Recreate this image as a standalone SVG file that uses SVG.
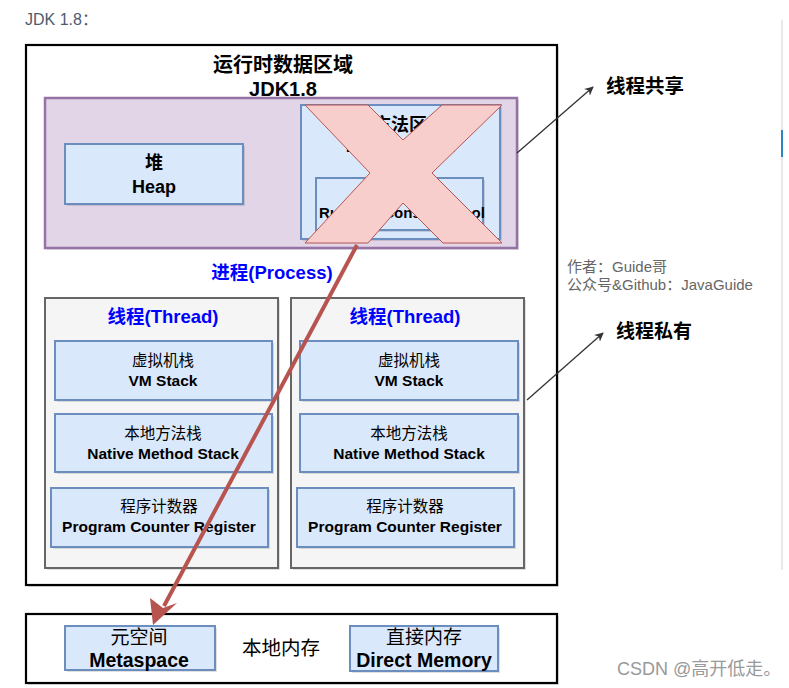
<svg xmlns="http://www.w3.org/2000/svg" width="789" height="688" viewBox="0 0 789 688">
<defs>
<style>
.t{font-family:"Liberation Sans","Noto Sans CJK SC",sans-serif;font-weight:bold;fill:#000;text-anchor:middle}
.n{font-weight:normal}
.blue{fill:#dae8fc;stroke:#6c8ebf;stroke-width:2}
.thr{fill:#f5f5f5;stroke:#666;stroke-width:2}
.blk{fill:#fff;stroke:#000;stroke-width:2.2}
.sh{fill:#000;opacity:0.12}
.bl{fill:#0000ff;font-size:18.5px}
.s14{font-size:15.5px}
.g{font-family:"Liberation Sans","Noto Sans CJK SC",sans-serif}
</style>
<marker id="ah" viewBox="0 0 10 10" refX="9" refY="5" markerWidth="9" markerHeight="9" orient="auto" markerUnits="userSpaceOnUse">
<path d="M0,0 L10,5 L0,10 L3,5 Z" fill="#333"/>
</marker>
</defs>
<rect width="789" height="688" fill="#fff"/>
<line x1="782" y1="20" x2="782" y2="570" stroke="#e8e8ec" stroke-width="2"/>
<line x1="782" y1="130" x2="782" y2="157" stroke="#2e86c1" stroke-width="2"/>
<text class="g" x="25" y="25" font-size="16" fill="#4d5b6b">JDK 1.8：</text>

<g id="runtime">
<rect class="sh" x="28" y="47" width="531" height="540"/>
<rect class="blk" x="26" y="45" width="531" height="540"/>
<text class="t" x="283" y="72" font-size="20">运行时数据区域</text>
<text class="t" x="283" y="96" font-size="20">JDK1.8</text>
</g>

<g id="shared">
<rect class="sh" x="47" y="100" width="472" height="150"/>
<rect x="45" y="98" width="472" height="150" fill="#e1d5e7" stroke="#9673a6" stroke-width="2.5"/>
</g>

<g id="heap">
<rect class="sh" x="67" y="146" width="178" height="60"/>
<rect class="blue" x="65" y="144" width="178" height="60"/>
<text class="t" x="154" y="169" font-size="18">堆</text>
<text class="t" x="154" y="193" font-size="18">Heap</text>
</g>

<g id="method-area">
<rect class="sh" x="303" y="107" width="199" height="134"/>
<rect class="blue" x="301" y="105" width="199" height="134"/>
<text class="t" x="400" y="131" font-size="18">方法区</text>
<text class="t" x="400" y="152" font-size="18">Method Area</text>
<rect class="sh" x="318" y="180" width="167" height="52"/>
<rect class="blue" x="316" y="178" width="167" height="52"/>
<text class="t" x="402" y="218" font-size="15">Runtime Constant Pool</text>
</g>

<g id="cross">
<polygon points="305,105 368,105 403,140 442,105 502,105 432,173 502,243 443,243 403,203 368,243 305,243 370,173" fill="#f8cecc" stroke="#b85450" stroke-width="1"/>
</g>

<text class="t bl" x="272" y="279">进程(Process)</text>

<g id="thread-left">
<rect class="sh" x="47" y="300" width="233" height="270"/>
<rect class="thr" x="45" y="298" width="233" height="270"/>
<text class="t bl" x="163" y="323">线程(Thread)</text>
<rect class="sh" x="57" y="343" width="217" height="59"/>
<rect class="blue" x="55" y="341" width="217" height="59"/>
<text class="t s14 n" x="163" y="366">虚拟机栈</text>
<text class="t s14" x="163" y="386">VM Stack</text>
<rect class="sh" x="57" y="416" width="217" height="58"/>
<rect class="blue" x="55" y="414" width="217" height="58"/>
<text class="t s14 n" x="163" y="439">本地方法栈</text>
<text class="t s14" x="163" y="459">Native Method Stack</text>
<rect class="sh" x="53" y="490" width="217" height="59"/>
<rect class="blue" x="51" y="488" width="217" height="59"/>
<text class="t s14 n" x="159" y="512">程序计数器</text>
<text class="t s14" x="159" y="532">Program Counter Register</text>
</g>

<g id="thread-right">
<rect class="sh" x="293" y="300" width="233" height="270"/>
<rect class="thr" x="291" y="298" width="233" height="270"/>
<text class="t bl" x="405" y="323">线程(Thread)</text>
<rect class="sh" x="302" y="343" width="218" height="59"/>
<rect class="blue" x="300" y="341" width="218" height="59"/>
<text class="t s14 n" x="409" y="366">虚拟机栈</text>
<text class="t s14" x="409" y="386">VM Stack</text>
<rect class="sh" x="302" y="416" width="218" height="58"/>
<rect class="blue" x="300" y="414" width="218" height="58"/>
<text class="t s14 n" x="409" y="439">本地方法栈</text>
<text class="t s14" x="409" y="459">Native Method Stack</text>
<rect class="sh" x="299" y="490" width="217" height="59"/>
<rect class="blue" x="297" y="488" width="217" height="59"/>
<text class="t s14 n" x="405" y="512">程序计数器</text>
<text class="t s14" x="405" y="532">Program Counter Register</text>
</g>

<g id="native-memory">
<rect class="sh" x="28" y="616" width="531" height="69"/>
<rect class="blk" x="26" y="614" width="531" height="69"/>
<text class="t n" x="281" y="655" font-size="19.5">本地内存</text>
</g>
<g id="metaspace">
<rect class="sh" x="67" y="628" width="150" height="44"/>
<rect class="blue" x="65" y="626" width="150" height="44"/>
<text class="t n" x="139" y="644" font-size="19">元空间</text>
<text class="t" x="139" y="667" font-size="19.5">Metaspace</text>
</g>
<g id="direct-memory">
<rect class="sh" x="352" y="628" width="148" height="45"/>
<rect class="blue" x="350" y="626" width="148" height="45"/>
<text class="t n" x="424" y="644" font-size="19">直接内存</text>
<text class="t" x="424" y="667" font-size="19.5">Direct Memory</text>
</g>

<g id="connectors">
<line x1="357" y1="245" x2="164" y2="606" stroke="#b85450" stroke-width="4"/>
<polygon points="153,625 150,598 163,608 177,603" fill="#b85450"/>
<line x1="517" y1="153" x2="593" y2="87" stroke="#333" stroke-width="1.3" marker-end="url(#ah)"/>
<line x1="527" y1="400" x2="603" y2="333" stroke="#333" stroke-width="1.3" marker-end="url(#ah)"/>
</g>

<text class="t" x="606" y="93" font-size="19.5" style="text-anchor:start">线程共享</text>
<text class="t" x="616" y="338" font-size="19" style="text-anchor:start">线程私有</text>
<text class="g" x="567" y="272" font-size="15" fill="#666">作者：Guide哥</text>
<text class="g" x="567" y="290" font-size="15" fill="#666">公众号&amp;Github：JavaGuide</text>
<text class="g" x="617" y="675" font-size="18" fill="#999">CSDN @高开低走。</text>
</svg>
